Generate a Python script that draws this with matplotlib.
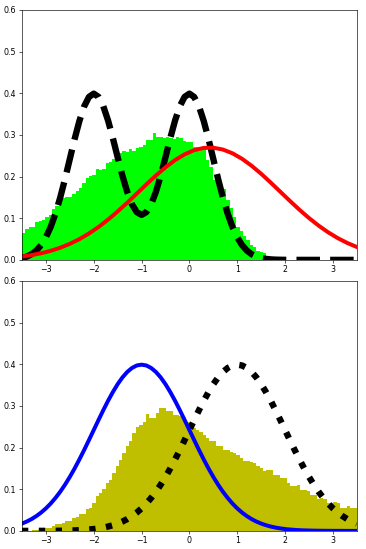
import numpy as np
import matplotlib
matplotlib.use("Agg")
import matplotlib.pyplot as plt

# histogram bar heights, 100 bins of width 0.07 over [-3.5, 3.5]
green_heights = [
    0.064, 0.074, 0.078, 0.080, 0.090, 0.094, 0.096, 0.104, 0.108, 0.122,
    0.130, 0.141, 0.149, 0.150, 0.152, 0.158, 0.165, 0.172, 0.184, 0.196,
    0.202, 0.203, 0.218, 0.216, 0.219, 0.232, 0.236, 0.242, 0.250, 0.256,
    0.262, 0.258, 0.266, 0.262, 0.268, 0.270, 0.276, 0.287, 0.288, 0.304,
    0.296, 0.296, 0.293, 0.296, 0.292, 0.290, 0.294, 0.292, 0.286, 0.283,
    0.282, 0.272, 0.270, 0.270, 0.266, 0.240, 0.224, 0.192, 0.180, 0.174,
    0.170, 0.144, 0.124, 0.104, 0.078, 0.070, 0.058, 0.048, 0.036, 0.030,
    0.022, 0.020, 0.016, 0.010, 0.008, 0.004, 0.002, 0.0, 0.0, 0.0,
    0.0, 0.0, 0.0, 0.0, 0.0, 0.0, 0.0, 0.0, 0.0, 0.0,
    0.0, 0.0, 0.0, 0.0, 0.0, 0.0, 0.0, 0.0, 0.0, 0.0,
]
yellow_heights = [
    0.0, 0.0, 0.0, 0.002, 0.002, 0.004, 0.006, 0.008, 0.008, 0.012,
    0.016, 0.016, 0.018, 0.024, 0.024, 0.032, 0.034, 0.040, 0.040, 0.052,
    0.056, 0.068, 0.083, 0.092, 0.100, 0.115, 0.123, 0.140, 0.155, 0.171,
    0.187, 0.203, 0.215, 0.235, 0.250, 0.254, 0.262, 0.280, 0.272, 0.272,
    0.282, 0.294, 0.294, 0.287, 0.287, 0.278, 0.278, 0.276, 0.274, 0.262,
    0.258, 0.246, 0.242, 0.238, 0.230, 0.223, 0.215, 0.215, 0.203, 0.203,
    0.195, 0.195, 0.190, 0.187, 0.183, 0.175, 0.167, 0.168, 0.166, 0.163,
    0.155, 0.152, 0.143, 0.145, 0.147, 0.135, 0.135, 0.127, 0.127, 0.115,
    0.107, 0.107, 0.111, 0.099, 0.099, 0.095, 0.087, 0.087, 0.076, 0.080,
    0.076, 0.068, 0.068, 0.070, 0.068, 0.056, 0.056, 0.060, 0.055, 0.056,
]

# top curves
dashed_top = [  # x from -3.5 to 3.5, step 0.1
    0.0044, 0.0079, 0.0136, 0.0224, 0.0355, 0.0540, 0.0790, 0.1109, 0.1497, 0.1942,
    0.2420, 0.2897, 0.3332, 0.3683, 0.3910, 0.3990, 0.3913, 0.3689, 0.3344, 0.2921,
    0.2464, 0.2021, 0.1633, 0.1333, 0.1145, 0.1080, 0.1145, 0.1333, 0.1633, 0.2021,
    0.2464, 0.2921, 0.3344, 0.3689, 0.3913, 0.3990, 0.3910, 0.3683, 0.3332, 0.2897,
    0.2420, 0.1942, 0.1497, 0.1109, 0.0790, 0.0540, 0.0355, 0.0224, 0.0136, 0.0079,
    0.0044, 0.0024, 0.0012, 0.0006, 0.0003, 0.0001, 0.0, 0.0, 0.0, 0.0,
    0.0, 0.0, 0.0, 0.0, 0.0, 0.0, 0.0, 0.0, 0.0, 0.0, 0.0,
]
red_top = [  # x from -3.5 to 3.5, step 0.2
    0.0081, 0.0115, 0.0159, 0.0218, 0.0292, 0.0385, 0.0498, 0.0633, 0.0789, 0.0967,
    0.1162, 0.1372, 0.1591, 0.1811, 0.2025, 0.2222, 0.2395, 0.2534, 0.2634, 0.2687,
    0.2692, 0.2648, 0.2558, 0.2426, 0.2259, 0.2066, 0.1855, 0.1635, 0.1416, 0.1203,
    0.1004, 0.0823, 0.0662, 0.0523, 0.0406, 0.0309,
]

# bottom curves, x from -3.5 to 3.5, step 0.1
blue_bottom = [
    0.0175, 0.0224, 0.0283, 0.0355, 0.0440, 0.0540, 0.0656, 0.0790, 0.0940, 0.1109,
    0.1295, 0.1497, 0.1714, 0.1942, 0.2179, 0.2420, 0.2661, 0.2897, 0.3123, 0.3332,
    0.3521, 0.3683, 0.3814, 0.3910, 0.3970, 0.3989, 0.3970, 0.3910, 0.3814, 0.3683,
    0.3521, 0.3332, 0.3123, 0.2897, 0.2661, 0.2420, 0.2179, 0.1942, 0.1714, 0.1497,
    0.1295, 0.1109, 0.0940, 0.0790, 0.0656, 0.0540, 0.0440, 0.0355, 0.0283, 0.0224,
    0.0175, 0.0136, 0.0104, 0.0079, 0.0060, 0.0044, 0.0033, 0.0024, 0.0017, 0.0012,
    0.0009, 0.0006, 0.0004, 0.0003, 0.0002, 0.0001, 0.0001, 0.0001, 0.0, 0.0, 0.0,
]
dotted_bottom = [
    0.0, 0.0, 0.0, 0.0001, 0.0001, 0.0001, 0.0002, 0.0003, 0.0004, 0.0006,
    0.0009, 0.0012, 0.0017, 0.0024, 0.0033, 0.0044, 0.0060, 0.0079, 0.0104, 0.0136,
    0.0175, 0.0224, 0.0283, 0.0355, 0.0440, 0.0540, 0.0656, 0.0790, 0.0940, 0.1109,
    0.1295, 0.1497, 0.1714, 0.1942, 0.2179, 0.2420, 0.2661, 0.2897, 0.3123, 0.3332,
    0.3521, 0.3683, 0.3814, 0.3910, 0.3970, 0.3989, 0.3970, 0.3910, 0.3814, 0.3683,
    0.3521, 0.3332, 0.3123, 0.2897, 0.2661, 0.2420, 0.2179, 0.1942, 0.1714, 0.1497,
    0.1295, 0.1109, 0.0940, 0.0790, 0.0656, 0.0540, 0.0440, 0.0355, 0.0283, 0.0224,
    0.0175,
]

edges = np.linspace(-3.5, 3.5, len(green_heights) + 1)
centers = (edges[:-1] + edges[1:]) / 2
x_fine = np.linspace(-3.5, 3.5, len(dashed_top))
x_coarse = np.linspace(-3.5, 3.5, len(red_top))

fig, (ax1, ax2) = plt.subplots(2, 1, figsize=(6.4, 9.6), dpi=366 / 6.4)
fig.subplots_adjust(left=0.06, right=0.975, bottom=0.033, top=0.982, hspace=0.084)

ax1.hist(centers, bins=edges, weights=green_heights, histtype="stepfilled", color="lime")
ax1.plot(x_fine, dashed_top, "k--", lw=8)
ax1.plot(x_coarse, red_top, "r-", lw=5)

ax2.hist(centers, bins=edges, weights=yellow_heights, histtype="stepfilled", color="y")
ax2.plot(x_fine, dotted_bottom, "k:", lw=8)
ax2.plot(x_fine, blue_bottom, "b-", lw=5)

for ax in (ax1, ax2):
    ax.set_xlim(-3.5, 3.5)
    ax.set_ylim(0, 0.6)

fig.savefig("out.png")
